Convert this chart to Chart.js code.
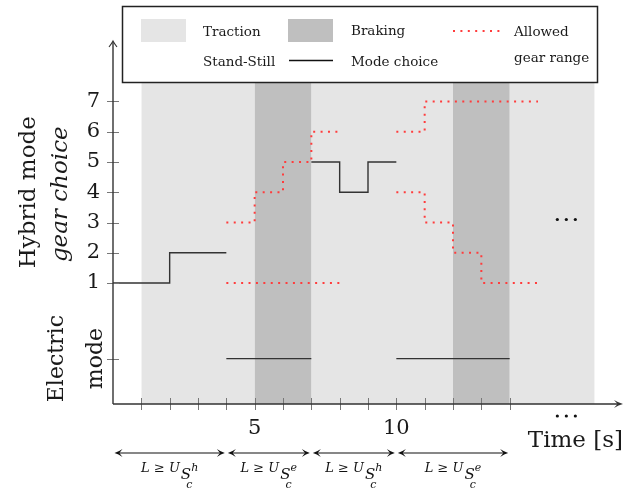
<!DOCTYPE html>
<html>
<head>
<meta charset="utf-8">
<script src="https://cdn.jsdelivr.net/npm/chart.js@4.4.1/dist/chart.umd.min.js"></script>
<style>
  html, body { margin: 0; padding: 0; background: #fff; }
  #wrap { width: 629px; height: 492px; position: relative; }
</style>
</head>
<body>
<div id="wrap"><canvas id="modeChart"></canvas></div>
<script>
// ---- data ----
const gearTicks = [1, 2, 3, 4, 5, 6, 7];
const ELECTRIC = -1.5;           // level used for the electric mode row
const timeTicks = [1, 2, 3, 4, 5, 6, 7, 8, 9, 10, 11, 12, 13, 14];
const timeLabels = [5, 10];

// driving phases (s)
const tractionSpan = [1, 17];
const brakingSpans = [[5, 7], [12, 14]];
const SHADE_TOP = 8.5;

// chosen mode / gear, null = break in the line
const modeTimes = [0, 2, 4, 4, 4, 7, 7, 7, 8, 9, 10, 10, 10, 14];
const modeGears = [1, 2, 2, null, ELECTRIC, ELECTRIC, null, 5, 4, 5, 5, null, ELECTRIC, ELECTRIC];

// allowed gear range (upper / lower bounds)
const upperTimesA = [4, 5, 6, 7, 8];
const upperGearsA = [3, 4, 5, 6, 6];
const lowerTimesA = [4, 8];
const lowerGearsA = [1, 1];
const upperTimesB = [10, 11, 15];
const upperGearsB = [6, 7, 7];
const lowerTimesB = [10, 11, 12, 13, 15];
const lowerGearsB = [4, 3, 2, 1, 1];

// constraint spans under the time axis
const spanBounds = [[0, 4], [4, 7], [7, 10], [10, 14]];
const spanModes = ['h', 'e', 'h', 'e'];

// ---- styles ----
const SERIF = '"DejaVu Serif", serif';
const TRACTION_COLOR = '#e5e5e5';
const BRAKING_COLOR = '#bfbfbf';
const RANGE_COLOR = 'rgb(255, 60, 60)';
const LINE_COLOR = '#333';
const TEXT_COLOR = '#1a1a1a';

function pts(times, gears) {
    return times.map((t, i) => ({ x: t, y: gears[i] }));
}

function shade(span, color, order) {
    return {
        data: span.map(t => ({ x: t, y: SHADE_TOP })),
        fill: 'start',
        backgroundColor: color,
        borderWidth: 0,
        pointRadius: 0,
        order: order
    };
}

function rangeLine(times, gears) {
    return {
        data: pts(times, gears),
        stepped: 'before',
        borderColor: RANGE_COLOR,
        borderWidth: 2,
        borderDash: [2, 5.4],
        borderCapStyle: 'butt',
        pointRadius: 0,
        fill: false,
        order: 1
    };
}

function arrowHead(ctx, x, y, angle, len, half) {
    ctx.save();
    ctx.translate(x, y);
    ctx.rotate(angle);
    ctx.beginPath();
    ctx.moveTo(0, 0);
    ctx.quadraticCurveTo(-len * 0.5, -half * 0.3, -len, -half);
    ctx.lineTo(-len * 0.6, 0);
    ctx.lineTo(-len, half);
    ctx.quadraticCurveTo(-len * 0.5, half * 0.3, 0, 0);
    ctx.closePath();
    ctx.fill();
    ctx.restore();
}

// thin open head for the vertical axis
function openHead(ctx, x, y) {
    ctx.beginPath();
    ctx.moveTo(x - 4, y + 6);
    ctx.quadraticCurveTo(x - 1, y + 2, x, y);
    ctx.quadraticCurveTo(x + 1, y + 2, x + 4, y + 6);
    ctx.stroke();
}

function rotatedText(ctx, text, x, y, font) {
    ctx.save();
    ctx.translate(x, y);
    ctx.rotate(-Math.PI / 2);
    ctx.font = font;
    ctx.textAlign = 'center';
    ctx.textBaseline = 'alphabetic';
    ctx.fillText(text, 0, 0);
    ctx.restore();
}

function dots(ctx, cx, cy) {
    [-9, 0, 9].forEach(dx => {
        ctx.beginPath();
        ctx.arc(cx + dx, cy, 1.6, 0, Math.PI * 2);
        ctx.fill();
    });
}

// axes with arrows, crossing ticks, side titles, span arrows
const axesPlugin = {
    id: 'axesPlugin',
    afterDatasetsDraw(chart) {
        const { ctx, chartArea: a, scales: { x, y } } = chart;
        ctx.save();

        ctx.strokeStyle = '#777';
        ctx.lineWidth = 1;
        ctx.beginPath();
        timeTicks.forEach(t => {
            const px = Math.round(x.getPixelForValue(t)) + 0.5;
            ctx.moveTo(px, a.bottom - 6);
            ctx.lineTo(px, a.bottom + 6);
        });
        gearTicks.concat([ELECTRIC]).forEach(g => {
            const py = Math.round(y.getPixelForValue(g)) + 0.5;
            ctx.moveTo(a.left - 6, py);
            ctx.lineTo(a.left + 6, py);
        });
        ctx.stroke();

        ctx.strokeStyle = LINE_COLOR;
        ctx.fillStyle = LINE_COLOR;
        ctx.lineWidth = 1.4;
        ctx.beginPath();
        ctx.moveTo(a.left, a.bottom);
        ctx.lineTo(a.right - 4, a.bottom);
        ctx.moveTo(a.left, a.bottom);
        ctx.lineTo(a.left, a.top + 1);
        ctx.stroke();
        arrowHead(ctx, a.right, a.bottom, 0, 9, 4);
        ctx.lineWidth = 1.1;
        openHead(ctx, a.left, a.top);

        // continuation marks
        ctx.fillStyle = '#111';
        dots(ctx, x.getPixelForValue(16), y.getPixelForValue(3.1));
        dots(ctx, x.getPixelForValue(16), a.bottom + 12);

        // side titles
        ctx.fillStyle = TEXT_COLOR;
        const midHybrid = y.getPixelForValue(4);
        const midElectric = y.getPixelForValue(ELECTRIC);
        rotatedText(ctx, 'Hybrid mode', 35, midHybrid, '23px ' + SERIF);
        rotatedText(ctx, 'gear choice', 67, midHybrid + 2, 'italic 23px ' + SERIF);
        rotatedText(ctx, 'Electric', 63, midElectric, '22px ' + SERIF);
        rotatedText(ctx, 'mode', 102, midElectric, '22px ' + SERIF);

        // constraint spans
        const ay = a.bottom + 49;
        ctx.strokeStyle = '#111';
        ctx.fillStyle = '#111';
        ctx.lineWidth = 1.2;
        spanBounds.forEach((s, i) => {
            const x1 = x.getPixelForValue(s[0]) + 1.5;
            const x2 = x.getPixelForValue(s[1]) - 1.5;
            ctx.beginPath();
            ctx.moveTo(x1 + 3, ay);
            ctx.lineTo(x2 - 3, ay);
            ctx.stroke();
            arrowHead(ctx, x1, ay, Math.PI, 8, 4);
            arrowHead(ctx, x2, ay, 0, 8, 4);

            const main = 'italic 13px ' + SERIF;
            const sub = 'italic 15px ' + SERIF;
            const tiny = 'italic 11px ' + SERIF;
            ctx.font = main;
            const w1 = ctx.measureText('L ≥ U').width;
            ctx.font = sub;
            const w2 = ctx.measureText('S').width;
            ctx.font = tiny;
            const w3 = ctx.measureText(spanModes[i]).width;
            const total = w1 + 1 + w2 + w3;
            let cx = (x1 + x2) / 2 - total / 2;
            const by = ay + 19;
            ctx.textAlign = 'left';
            ctx.textBaseline = 'alphabetic';
            ctx.font = main;
            ctx.fillText('L ≥ U', cx, by);
            cx += w1 + 1;
            ctx.font = sub;
            ctx.fillText('S', cx, by + 7);
            cx += w2;
            ctx.font = tiny;
            ctx.fillText(spanModes[i], cx, by - 1);
            ctx.fillText('c', cx - 5, by + 16);
        });

        ctx.restore();
    },
    afterDraw(chart) {
        const ctx = chart.ctx;
        ctx.save();
        // legend box
        ctx.fillStyle = '#fff';
        ctx.fillRect(122, 6, 476, 77);
        ctx.strokeStyle = '#222';
        ctx.lineWidth = 1.5;
        ctx.strokeRect(122.5, 6.5, 475, 76);

        ctx.fillStyle = TRACTION_COLOR;
        ctx.fillRect(141, 19, 45, 23);
        ctx.fillStyle = BRAKING_COLOR;
        ctx.fillRect(288, 19, 45, 23);

        ctx.strokeStyle = RANGE_COLOR;
        ctx.lineWidth = 2;
        ctx.setLineDash([2, 5.4]);
        ctx.beginPath();
        ctx.moveTo(453, 31);
        ctx.lineTo(500, 31);
        ctx.stroke();
        ctx.setLineDash([]);

        ctx.strokeStyle = '#111';
        ctx.lineWidth = 1.3;
        ctx.beginPath();
        ctx.moveTo(289, 60.5);
        ctx.lineTo(333, 60.5);
        ctx.stroke();

        ctx.fillStyle = TEXT_COLOR;
        ctx.font = '13.5px ' + SERIF;
        ctx.textAlign = 'left';
        ctx.textBaseline = 'alphabetic';
        ctx.fillText('Traction', 203, 36);
        ctx.fillText('Braking', 351, 34.5);
        ctx.fillText('Allowed', 514, 36);
        ctx.fillText('Stand-Still', 203, 66);
        ctx.fillText('Mode choice', 351, 66);
        ctx.fillText('gear range', 514, 62);
        ctx.restore();
    }
};

const datasets = [
    {
        data: pts(modeTimes, modeGears),
        stepped: 'before',
        borderColor: LINE_COLOR,
        borderWidth: 1.4,
        pointRadius: 0,
        fill: false,
        order: 0
    },
    rangeLine(upperTimesA, upperGearsA),
    rangeLine(lowerTimesA, lowerGearsA),
    rangeLine(upperTimesB, upperGearsB),
    rangeLine(lowerTimesB, lowerGearsB),
    ...brakingSpans.map(s => shade(s, BRAKING_COLOR, 5)),
    shade(tractionSpan, TRACTION_COLOR, 6)
];

new Chart(document.getElementById('modeChart'), {
    type: 'line',
    data: { datasets: datasets },
    options: {
        responsive: true,
        maintainAspectRatio: false,
        animation: false,
        layout: { padding: { top: 41, right: 6, left: 0, bottom: 0 } },
        plugins: {
            legend: { display: false },
            tooltip: { enabled: false }
        },
        scales: {
            x: {
                type: 'linear',
                min: 0,
                max: 18,
                grid: { display: false, drawTicks: false },
                border: { display: false },
                afterBuildTicks: scale => {
                    scale.ticks = timeTicks.map(v => ({ value: v }));
                },
                afterFit: scale => { scale.height = 88; },
                ticks: {
                    autoSkip: false,
                    maxRotation: 0,
                    padding: 12,
                    color: TEXT_COLOR,
                    font: { family: SERIF, size: 21 },
                    callback: v => timeLabels.includes(v) ? String(v) : ''
                },
                title: {
                    display: true,
                    text: 'Time [s]',
                    align: 'end',
                    color: TEXT_COLOR,
                    font: { family: SERIF, size: 23 },
                    padding: { top: 0, bottom: 37 }
                }
            },
            y: {
                type: 'linear',
                min: -3,
                max: 9,
                grid: { display: false, drawTicks: false },
                border: { display: false },
                afterBuildTicks: scale => {
                    scale.ticks = [ELECTRIC].concat(gearTicks).map(v => ({ value: v }));
                },
                afterFit: scale => { scale.width = 113; },
                ticks: {
                    autoSkip: false,
                    padding: 13,
                    color: TEXT_COLOR,
                    font: { family: SERIF, size: 21 },
                    callback: v => v === ELECTRIC ? '' : String(v)
                }
            }
        }
    },
    plugins: [axesPlugin]
});
</script>
</body>
</html>
